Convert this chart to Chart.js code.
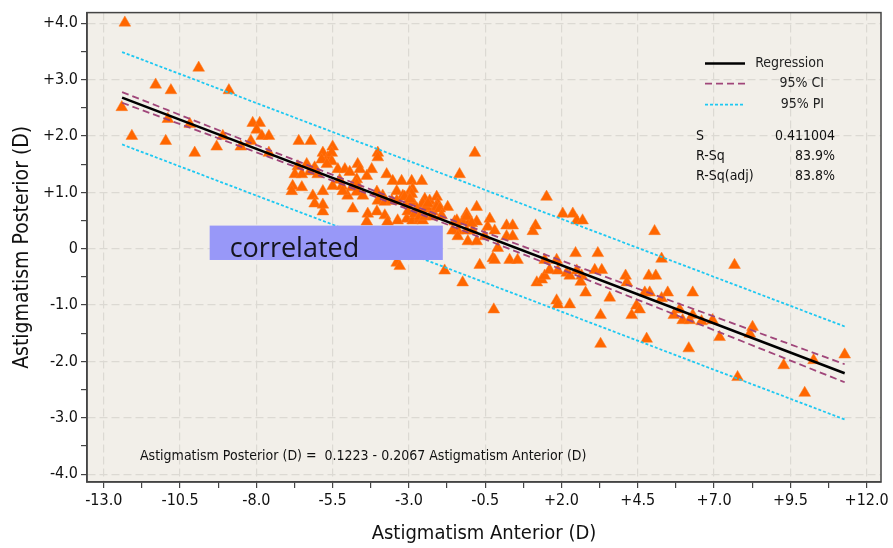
<!DOCTYPE html>
<html>
<head>
<meta charset="utf-8">
<script src="https://cdn.jsdelivr.net/npm/chart.js@4.4.1/dist/chart.umd.min.js"></script>
<style>
  html, body { margin: 0; padding: 0; background: #fff; }
</style>
</head>
<body>
<canvas id="myChart" width="893" height="548"></canvas>
<script>
// axis ticks
const xMajor = [-13.0, -10.5, -8.0, -5.5, -3.0, -0.5, 2.0, 4.5, 7.0, 9.5, 12.0];
const yMajor = [-4, -3, -2, -1, 0, 1, 2, 3, 4];

// observations
const anterior = [
  -12.31, -9.89, -11.30, -10.80, -8.90, -12.41, -10.90, -10.18, -12.08, -10.97,
  -10.02, -9.10, -9.30, -8.51, -8.18, -8.12, -7.89, -7.99, -7.82, -7.59,
  -7.59, -6.61, -6.22, -5.50, -5.82, -5.66, -5.53, -5.86, -4.02, -4.02,
  -6.64, -6.35, -6.25, -6.74, -6.51, -6.09, -5.99, -5.53, -5.33, -5.10,
  -4.94, -4.68, -4.61, -4.22, -4.71, -4.38, -3.73, -3.53, -3.24, -2.91,
  -2.58, -6.81, -6.51, -6.84, -5.82, -5.50, -5.20, -4.87, -4.71, -4.71,
  -4.51, -5.01, -6.15, -6.09, -5.82, -5.82, -4.05, -3.86, -4.02, -3.79,
  -3.56, -3.40, -3.20, -3.40, -3.07, -2.88, -2.88, -2.48, -2.55, -2.74,
  -2.48, -4.84, -4.35, -4.05, -3.79, -3.70, -3.37, -3.07, -2.88, -2.65,
  -2.55, -4.38, -5.27, -5.69, -5.17, -2.97, -2.32, -2.09, -2.06, -1.73,
  -2.22, -3.40, -3.30, -1.83, -1.24, -0.84, -1.34, -0.78, -1.11, -1.50,
  -1.24, -1.01, -0.78, -1.40, -1.11, -0.91, -0.35, -0.42, -0.19, -0.52,
  -1.07, -0.78, -0.68, -0.25, -2.91, -3.14, -2.97, -2.42, -2.38, -2.09,
  -1.99, -3.04, -2.81, -2.65, -2.48, -2.22, -1.93, -1.43, -1.11, -0.94,
  -1.57, -1.40, -0.09, 0.20, 0.40, 0.20, 0.40, -0.19, 0.30, 0.56,
  1.15, 1.06, 1.51, 1.19, 1.35, 1.45, 1.45, 1.84, 1.61, 1.88,
  2.17, 1.84, 2.04, 2.37, 2.50, 2.69, 2.46, 3.19, 2.27, 2.50,
  2.66, 2.63, 3.09, 3.32, 2.79, 3.58, 4.10, 4.14, 4.86, 5.09,
  4.73, 4.89, 4.46, 4.56, 4.30, 4.79, 1.88, 2.27, -0.22, 3.28,
  3.28, 5.05, 5.28, 7.67, 5.48, 6.30, 5.28, 5.87, 5.68, 5.97,
  6.20, 6.30, 6.59, 6.95, 6.17, 7.18, 8.26, 8.17, 7.77, 9.28,
  10.26, 9.97, 11.28
];
const posterior = [
  4.01, 3.21, 2.91, 2.81, 2.81, 2.51, 2.30, 2.21, 2.00, 1.91,
  1.70, 2.00, 1.81, 1.81, 1.91, 2.23, 2.23, 2.11, 2.00, 2.00,
  1.70, 1.91, 1.91, 1.81, 1.70, 1.62, 1.70, 1.58, 1.70, 1.62,
  1.46, 1.50, 1.37, 1.32, 1.32, 1.44, 1.32, 1.55, 1.41, 1.41,
  1.36, 1.50, 1.41, 1.41, 1.23, 1.29, 1.32, 1.20, 1.20, 1.20,
  1.20, 1.11, 1.09, 1.02, 1.02, 1.11, 1.11, 1.09, 1.15, 1.01,
  0.94, 0.94, 0.94, 0.80, 0.66, 0.78, 1.01, 0.94, 0.85, 0.83,
  0.85, 1.02, 0.94, 0.85, 0.80, 0.83, 1.06, 0.88, 0.80, 0.71,
  0.71, 0.71, 0.62, 0.66, 0.59, 0.48, 0.50, 0.53, 0.50, 0.53,
  0.50, 0.48, 1.22, 1.50, 1.02, 1.01, 0.85, 0.92, 0.80, 0.74,
  0.66, -0.25, -0.31, -0.39, -0.60, 1.70, 1.32, 0.74, 0.62, 0.48,
  0.48, 0.48, 0.48, 0.32, 0.32, 0.32, 0.53, 0.39, 0.32, 0.22,
  0.13, 0.13, -0.29, -0.17, 0.97, 0.92, 0.88, 0.74, 0.80, 0.74,
  0.71, 0.66, 0.62, 0.57, 0.57, 0.57, 0.59, 0.50, 0.57, 0.45,
  0.32, 0.22, 0.01, 0.41, 0.41, 0.22, 0.22, -0.20, -0.20, -0.20,
  0.41, 0.31, 0.92, -0.60, -0.55, -0.48, -0.20, -0.20, -0.38, -0.39,
  -0.43, -0.92, 0.62, 0.62, 0.50, 0.50, -0.08, -0.08, -0.48, -0.39,
  -0.48, -0.59, -0.38, -0.38, -0.78, -0.87, -0.48, -0.60, -0.48, -0.48,
  -0.78, -0.78, -1.01, -1.08, -1.18, -1.60, -0.99, -0.99, -1.08, -1.18,
  -1.69, 0.31, -0.18, -0.29, -0.78, -0.78, -0.88, -1.08, -1.18, -1.27,
  -1.27, -1.18, -1.29, -1.27, -1.77, -1.57, -1.39, -1.51, -2.28, -2.07,
  -1.98, -2.56, -1.88
];

// fitted line and bands
const regX = [-12.40, 11.28];
const regY = [2.68, -2.21];
const ciX = [-12.40, -8.0, -4.0, 0.0, 4.0, 8.0, 11.28];
const ciUpper = [2.78, 1.84, 1.00, 0.19, -0.61, -1.40, -2.05];
const ciLower = [2.59, 1.71, 0.90, 0.06, -0.80, -1.66, -2.37];
const piX = [-12.40, 11.28];
const piUpper = [3.49, -1.38];
const piLower = [1.85, -3.03];

const legendItems = ['Regression', '95% CI', '95% PI'];
const statNames = ['S', 'R-Sq', 'R-Sq(adj)'];
const statValues = ['0.411004', '83.9%', '83.8%'];
const equation = 'Astigmatism Posterior (D) =  0.1223 - 0.2067 Astigmatism Anterior (D)';
const boxX = [-9.53, -1.89];
const boxY = [0.41, -0.20];
const boxLabel = 'correlated';

const FONT = "'DejaVu Sans Condensed', 'DejaVu Sans', sans-serif";
const CI_COLOR = '#a0467a';
const PI_COLOR = '#1ec8f2';

function pts(xs, ys) { return xs.map((x, i) => ({ x: x, y: ys[i] })); }
function withMinor(major) {
  const out = [];
  major.forEach((v, i) => {
    out.push(v);
    if (i < major.length - 1) out.push((v + major[i + 1]) / 2);
  });
  return out;
}
function fmt(v) {
  if (v === 0) return '0';
  return (v > 0 ? '+' : '') + v.toFixed(1);
}
const isMajor = (list, v) => list.some(m => Math.abs(m - v) < 1e-9);

const overlay = {
  id: 'overlay',
  beforeDraw(chart) {
    const { ctx, chartArea: ca } = chart;
    ctx.save();
    ctx.fillStyle = '#ffffff';
    ctx.fillRect(0, 0, chart.width, chart.height);
    ctx.fillStyle = '#f2efe9';
    ctx.fillRect(ca.left, ca.top, ca.right - ca.left, ca.bottom - ca.top);
    ctx.restore();
  },
  afterDraw(chart) {
    const { ctx, chartArea: ca, scales } = chart;
    ctx.save();
    // frame
    ctx.strokeStyle = '#444';
    ctx.lineWidth = 1.5;
    ctx.strokeRect(ca.left, ca.top, ca.right - ca.left, ca.bottom - ca.top);

    // legend
    const lx0 = ca.right - 176, lx1 = ca.right - 136, tx = ca.right - 57;
    const rows = [ca.top + 51, ca.top + 71, ca.top + 92];
    const styles = [
      { c: '#000', w: 2.5, d: [] },
      { c: CI_COLOR, w: 1.8, d: [7, 4] },
      { c: PI_COLOR, w: 1.8, d: [3, 2] }
    ];
    ctx.font = '14px ' + FONT;
    ctx.textBaseline = 'middle';
    legendItems.forEach((name, i) => {
      const s = styles[i];
      ctx.beginPath();
      ctx.setLineDash(s.d);
      ctx.strokeStyle = s.c;
      ctx.lineWidth = s.w;
      ctx.moveTo(lx0, rows[i]);
      ctx.lineTo(lx1, rows[i]);
      ctx.stroke();
      ctx.fillStyle = '#222';
      ctx.textAlign = 'right';
      ctx.fillText(name, tx, rows[i]);
    });
    ctx.setLineDash([]);

    // stats
    const sy = [ca.top + 124, ca.top + 144, ca.top + 164];
    statNames.forEach((name, i) => {
      ctx.fillStyle = '#111';
      ctx.textAlign = 'left';
      ctx.fillText(name, ca.right - 185, sy[i]);
      ctx.textAlign = 'right';
      ctx.fillText(statValues[i], ca.right - 46, sy[i]);
    });

    // equation
    ctx.font = '14px ' + FONT;
    ctx.textAlign = 'left';
    ctx.fillStyle = '#111';
    ctx.fillText(equation, ca.left + 53, ca.bottom - 26);

    // highlight box
    const bx0 = scales.x.getPixelForValue(boxX[0]);
    const bx1 = scales.x.getPixelForValue(boxX[1]);
    const by0 = scales.y.getPixelForValue(boxY[0]);
    const by1 = scales.y.getPixelForValue(boxY[1]);
    ctx.fillStyle = '#9898f8';
    ctx.fillRect(bx0, by0, bx1 - bx0, by1 - by0);
    ctx.fillStyle = '#15151f';
    ctx.font = "27px 'Open Sans', 'Noto Sans', sans-serif";
    ctx.textBaseline = 'alphabetic';
    ctx.fillText(boxLabel, bx0 + 20, by1 - 3);
    ctx.restore();
  }
};

const ctx = document.getElementById('myChart').getContext('2d');
const chart = new Chart(ctx, {
  type: 'scatter',
  data: {
    datasets: [
      {
        label: 'Regression',
        data: pts(regX, regY),
        showLine: true,
        borderColor: '#000',
        borderWidth: 2.5,
        pointRadius: 0
      },
      {
        label: '95% CI upper',
        data: pts(ciX, ciUpper),
        showLine: true,
        borderColor: CI_COLOR,
        borderWidth: 1.8,
        borderDash: [7, 4],
        cubicInterpolationMode: 'monotone',
        pointRadius: 0
      },
      {
        label: '95% CI lower',
        data: pts(ciX, ciLower),
        showLine: true,
        borderColor: CI_COLOR,
        borderWidth: 1.8,
        borderDash: [7, 4],
        cubicInterpolationMode: 'monotone',
        pointRadius: 0
      },
      {
        label: '95% PI upper',
        data: pts(piX, piUpper),
        showLine: true,
        borderColor: PI_COLOR,
        borderWidth: 1.8,
        borderDash: [3, 2],
        pointRadius: 0
      },
      {
        label: '95% PI lower',
        data: pts(piX, piLower),
        showLine: true,
        borderColor: PI_COLOR,
        borderWidth: 1.8,
        borderDash: [3, 2],
        pointRadius: 0
      },
      {
        label: 'Observations',
        data: pts(anterior, posterior),
        pointStyle: 'triangle',
        pointRadius: 6.8,
        backgroundColor: '#ff6600',
        borderColor: '#ff7a22',
        borderWidth: 0.5
      }
    ]
  },
  options: {
    responsive: false,
    devicePixelRatio: 1,
    animation: false,
    layout: { padding: { top: 6, right: 12, left: 0, bottom: 0 } },
    plugins: {
      legend: { display: false },
      tooltip: { enabled: false }
    },
    scales: {
      x: {
        type: 'linear',
        min: -13.55,
        max: 12.47,
        afterBuildTicks: s => { s.ticks = withMinor(xMajor).map(v => ({ value: v })); },
        afterFit: s => { s.height = 66; },
        ticks: {
          autoSkip: false,
          maxRotation: 0,
          padding: 3,
          color: '#111',
          font: { family: FONT, size: 16 },
          callback: v => isMajor(xMajor, v) ? fmt(v) : ''
        },
        grid: {
          color: c => isMajor(xMajor, c.tick.value) ? '#dcd9d3' : 'transparent',
          lineWidth: 1.2,
          tickColor: '#444',
          tickLength: 6
        },
        border: { color: '#444', width: 1.5, dash: [8, 4] },
        title: {
          display: true,
          text: 'Astigmatism Anterior (D)',
          color: '#111',
          font: { family: FONT, size: 20 },
          padding: { top: 0, bottom: 2 }
        }
      },
      y: {
        type: 'linear',
        min: -4.14,
        max: 4.19,
        afterBuildTicks: s => { s.ticks = withMinor(yMajor).map(v => ({ value: v })); },
        afterFit: s => { s.width = 87; },
        ticks: {
          padding: 3,
          color: '#111',
          font: { family: FONT, size: 16 },
          callback: v => isMajor(yMajor, v) ? fmt(v) : ''
        },
        grid: {
          color: c => isMajor(yMajor, c.tick.value) ? '#dcd9d3' : 'transparent',
          lineWidth: 1.2,
          tickColor: '#444',
          tickLength: 6
        },
        border: { color: '#444', width: 1.5, dash: [8, 4] },
        title: {
          display: true,
          text: 'Astigmatism Posterior (D)',
          color: '#111',
          font: { family: FONT, size: 21 },
          padding: { top: 10, bottom: 0 }
        }
      }
    }
  },
  plugins: [overlay]
});
</script>
</body>
</html>
